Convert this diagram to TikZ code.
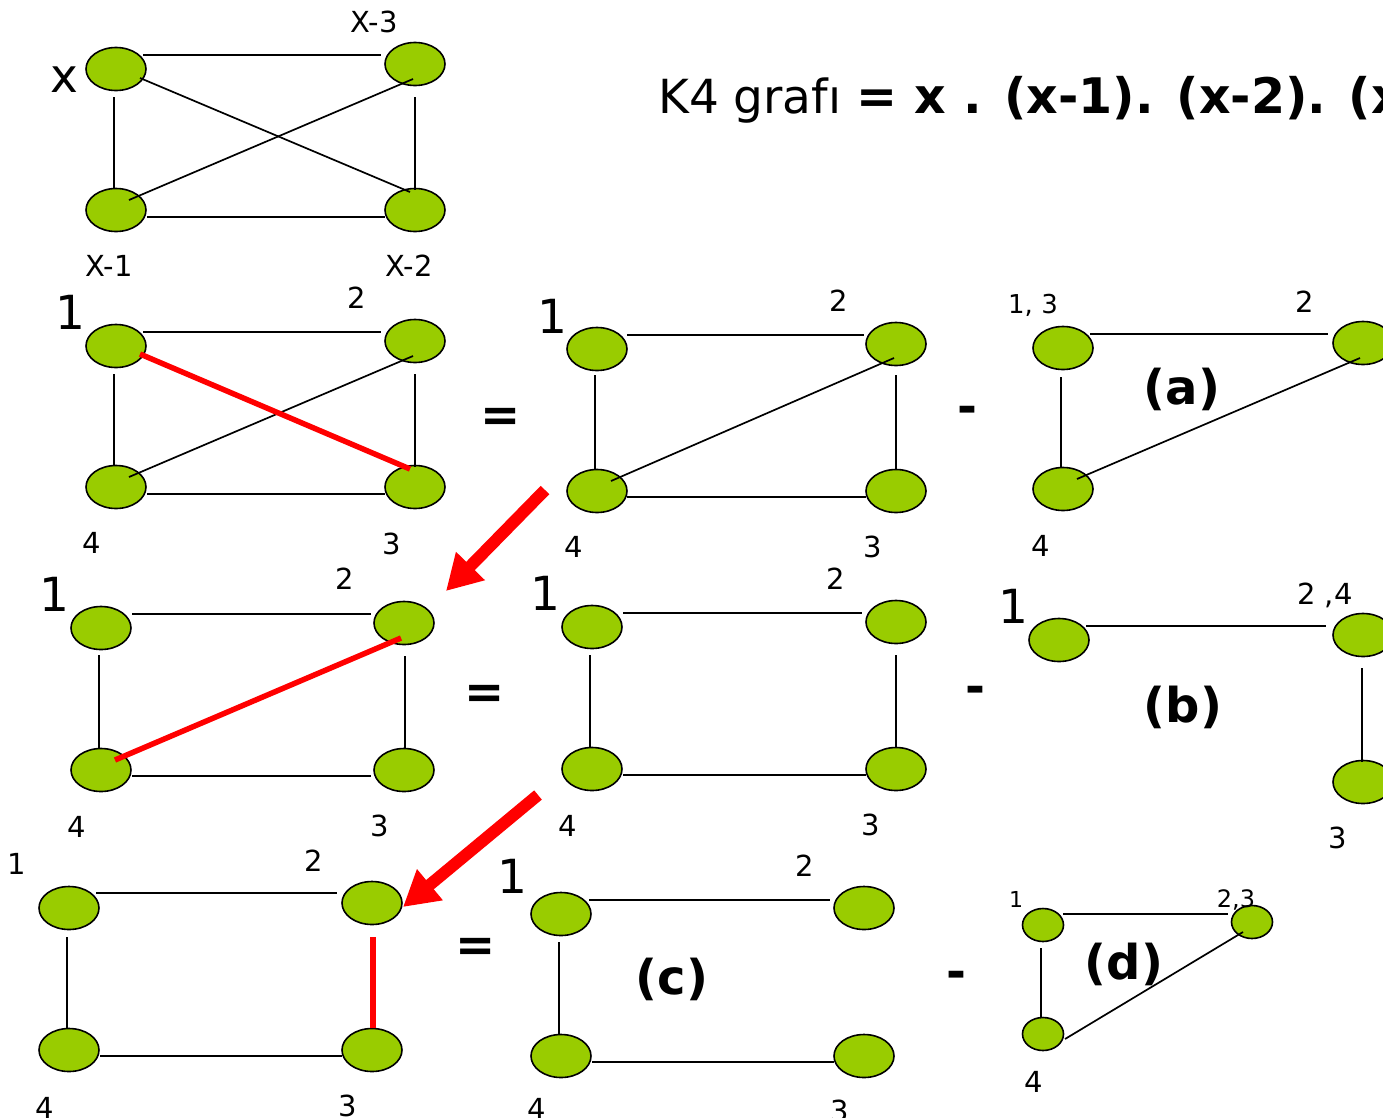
\documentclass[tikz,border=0pt]{standalone}
\usepackage{fontspec}
\setmainfont{DejaVu Sans}
\usetikzlibrary{shapes.geometric,arrows.meta,calc}
\definecolor{vgreen}{HTML}{99CC00}
\definecolor{vred}{HTML}{FF0000}
\newcommand\gedge[5][edge]{\draw[#1] ($(#2)+(#3)$) -- ($(#4)+(#5)$);}
\begin{document}
\begin{tikzpicture}[x=1pt,y=-1pt,
  vtx/.style={ellipse,draw=black,line width=1.6pt,fill=vgreen,minimum width=60pt,minimum height=43pt,inner sep=0pt},
  svtx/.style={vtx,minimum width=41pt,minimum height=33pt},
  edge/.style={line width=1.7pt,draw=black},
  redge/.style={line width=5.5pt,draw=vred},
  bigarrow/.style={line width=12pt,draw=vred,-{Triangle[length=35pt,width=38pt]}},
  lbl/.style={inner sep=0pt,font=\fontsize{29}{32}\selectfont},
  slbl/.style={inner sep=0pt,font=\fontsize{22}{26}\selectfont},
  biglbl/.style={inner sep=0pt,font=\fontsize{47}{50}\selectfont},
  op/.style={inner sep=0pt,font=\fontsize{48}{52}\selectfont\bfseries},
  tag/.style={inner sep=0pt,font=\fontsize{48}{52}\selectfont\bfseries}]
\useasboundingbox (0,0) rectangle (1383,1117);
\clip (0,0) rectangle (1383,1117);

% ---------- title ----------
\node[anchor=base west,inner sep=0pt,font=\fontsize{47}{50}\selectfont] (title) at (658,113) {K4 grafı {\fontsize{49}{52}\selectfont\bfseries = x . (x-1). (x-2). (x}};

% ---------- graph 1 (top) ----------
\node[vtx] (X)  at (116,69) {};
\node[vtx] (X3) at (415,64) {};
\node[vtx] (X1) at (116,210) {};
\node[vtx] (X2) at (415,210) {};
\gedge{X}{27,-14}{X3}{-34,-9}
\gedge{X}{-2,28}{X1}{-2,-22}
\gedge{X3}{0,33}{X2}{0,-20}
\gedge{X1}{31,7}{X2}{-30,7}
\gedge{X}{24,9}{X2}{-5,-18}
\gedge{X1}{13,-10}{X3}{-2,15}
\node[biglbl] (lx) at (64,80) {x};
\node[lbl] (lx3) at (374,22) {X-3};
\node[lbl] (lx1) at (109,266) {X-1};
\node[lbl] (lx2) at (409,266) {X-2};

% ---------- graph 2 ----------
\node[vtx] (A1) at (116,346) {};
\node[vtx] (A2) at (415,341) {};
\node[vtx] (A4) at (116,487) {};
\node[vtx] (A3) at (415,487) {};
\gedge{A1}{27,-14}{A2}{-34,-9}
\gedge{A1}{-2,28}{A4}{-2,-22}
\gedge{A2}{0,33}{A3}{0,-20}
\gedge{A4}{31,7}{A3}{-30,7}
\gedge{A4}{13,-10}{A2}{-2,15}
\gedge[redge]{A1}{24,8}{A3}{-5,-18}
\node[biglbl] (la1) at (70,312) {1};
\node[lbl] (la2) at (357,298) {2};
\node[lbl] (la4) at (92,543) {4};
\node[lbl] (la3) at (392,544) {3};
\node[op] (eq1) at (501,420) {=};

% ---------- graph 3 ----------
\node[vtx] (B1) at (597,349) {};
\node[vtx] (B2) at (896,344) {};
\node[vtx] (B4) at (597,491) {};
\node[vtx] (B3) at (896,491) {};
\gedge{B1}{30,-14}{B2}{-32,-9}
\gedge{B1}{-2,26}{B4}{-2,-22}
\gedge{B2}{0,31}{B3}{0,-22}
\gedge{B4}{30,6}{B3}{-30,6}
\gedge{B4}{14,-10}{B2}{-2,14}
\node[biglbl] (lb1) at (552,316) {1};
\node[lbl] (lb2) at (839,301) {2};
\node[lbl] (lb4) at (574,547) {4};
\node[lbl] (lb3) at (873,547) {3};
\node[op] (mi1) at (967,415) {-};

% ---------- graph (a) ----------
\node[vtx] (C13) at (1063,348) {};
\node[vtx] (C2)  at (1363,343) {};
\node[vtx] (C4)  at (1063,489) {};
\gedge{C13}{27,-14}{C2}{-35,-9}
\gedge{C13}{-2,29}{C4}{-2,-21}
\gedge{C4}{14,-10}{C2}{-3,15}
\node[inner sep=0pt,anchor=base,font=\fontsize{26}{30}\selectfont] (lc13) at (1033,313) {1, 3};
\node[lbl] (lc2) at (1305,302) {2};
\node[lbl] (lc4) at (1041,546) {4};
\node[tag] (ta) at (1182,389) {(a)};

% ---------- arrow 1 ----------
\coordinate (t1) at (545,490);
\coordinate (h1) at (446,591);
\draw[bigarrow] (t1) -- (h1);

% ---------- graph 4 ----------
\node[vtx] (D1) at (101,628) {};
\node[vtx] (D2) at (404,623) {};
\node[vtx] (D4) at (101,770) {};
\node[vtx] (D3) at (404,770) {};
\gedge{D1}{31,-14}{D2}{-33,-9}
\gedge{D1}{-2,27}{D4}{-2,-22}
\gedge{D2}{1,33}{D3}{1,-22}
\gedge{D4}{31,6}{D3}{-33,6}
\gedge[redge]{D4}{14,-10}{D2}{-3,15}
\node[biglbl] (ld1) at (54,594) {1};
\node[lbl] (ld2) at (345,579) {2};
\node[lbl] (ld4) at (77,827) {4};
\node[lbl] (ld3) at (380,826) {3};
\node[op] (eq2) at (485,697) {=};

% ---------- graph 5 ----------
\node[vtx] (E1) at (592,627) {};
\node[vtx] (E2) at (896,622) {};
\node[vtx] (E4) at (592,769) {};
\node[vtx] (E3) at (896,769) {};
\gedge{E1}{31,-14}{E2}{-34,-9}
\gedge{E1}{-2,28}{E4}{-2,-21}
\gedge{E2}{0,33}{E3}{0,-21}
\gedge{E4}{31,6}{E3}{-30,6}
\node[biglbl] (le1) at (545,593) {1};
\node[lbl] (le2) at (836,579) {2};
\node[lbl] (le4) at (568,826) {4};
\node[lbl] (le3) at (871,825) {3};
\node[op] (mi2) at (975,695) {-};

% ---------- graph (b) ----------
\node[vtx] (F1)  at (1059,640) {};
\node[vtx] (F24) at (1363,635) {};
\node[vtx] (F3)  at (1363,782) {};
\gedge{F1}{27,-14}{F24}{-37,-9}
\gedge{F24}{-1,33}{F3}{-1,-20}
\node[biglbl] (lf1) at (1013,606) {1};
\node[inner sep=0pt,anchor=base,font=\fontsize{29}{32}\selectfont] (lf24) at (1325,604) {2 ,4};
\node[lbl] (lf3) at (1338,838) {3};
\node[tag] (tb) at (1183,707) {(b)};

% ---------- arrow 2 ----------
\coordinate (t2) at (538,795);
\coordinate (h2) at (403,907);
\draw[bigarrow] (t2) -- (h2);

% ---------- graph 6 ----------
\node[vtx] (G1) at (69,908) {};
\node[vtx] (G2) at (372,903) {};
\node[vtx] (G4) at (69,1050) {};
\node[vtx] (G3) at (372,1050) {};
\gedge{G1}{27,-15}{G2}{-35,-10}
\gedge{G1}{-2,29}{G4}{-2,-22}
\gedge{G4}{31,6}{G3}{-30,6}
\gedge[redge]{G2}{1,34}{G3}{1,-22}
\node[lbl] (lg1) at (17,864) {1};
\node[lbl] (lg2) at (314,861) {2};
\node[lbl] (lg4) at (45,1108) {4};
\node[lbl] (lg3) at (348,1106) {3};
\node[op] (eq3) at (476,950) {=};

% ---------- graph 7 (c) ----------
\node[vtx] (H1) at (561,914) {};
\node[vtx] (H2) at (864,908) {};
\node[vtx] (H4) at (561,1056) {};
\node[vtx] (H3) at (864,1056) {};
\gedge{H1}{28,-14}{H2}{-34,-8}
\gedge{H1}{-2,28}{H4}{-2,-22}
\gedge{H4}{31,6}{H3}{-30,6}
\node[biglbl] (lh1) at (512,876) {1};
\node[lbl] (lh2) at (805,866) {2};
\node[lbl] (lh4) at (537,1109) {4};
\node[lbl] (lh3) at (840,1111) {3};
\node[tag] (tc) at (672,979) {(c)};
\node[op] (mi3) at (956,980) {-};

% ---------- graph (d) ----------
\node[svtx] (I1)  at (1043,925) {};
\node[svtx] (I23) at (1252,922) {};
\node[svtx] (I4)  at (1043,1034) {};
\gedge{I1}{20,-11}{I23}{-24,-8}
\gedge{I1}{-2,23}{I4}{-2,-16}
\gedge{I4}{22,5}{I23}{-9,10}
\node[slbl] (li1) at (1016,899) {1};
\node[inner sep=0pt,anchor=base,font=\fontsize{24}{28}\selectfont] (li23) at (1236,907) {2,3};
\node[inner sep=0pt,font=\fontsize{29}{32}\selectfont] (li4) at (1034,1082) {4};
\node[tag] (td) at (1124,964) {(d)};
\end{tikzpicture}
\end{document}
